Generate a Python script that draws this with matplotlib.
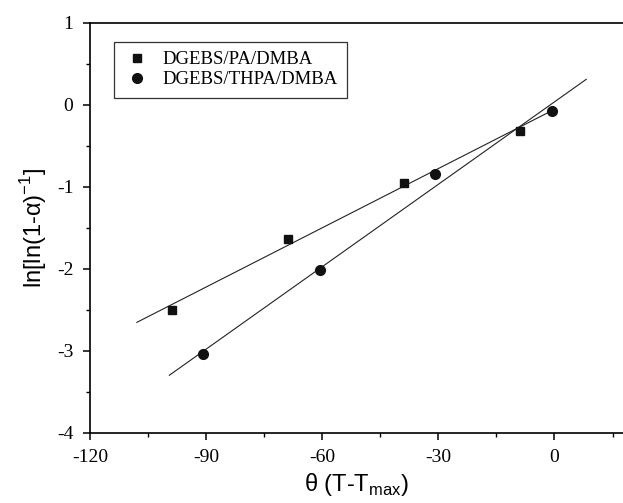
import matplotlib
matplotlib.use("Agg")
import matplotlib.pyplot as plt
import numpy as np
from matplotlib.ticker import MultipleLocator

plt.rcParams['axes.unicode_minus'] = False

# Data
pa_x = [-98.9, -68.8, -38.8, -8.8]
pa_y = [-2.50, -1.64, -0.95, -0.32]
thpa_x = [-90.7, -60.7, -30.8, -0.7]
thpa_y = [-3.04, -2.02, -0.85, -0.08]
labels = ["DGEBS/PA/DMBA", "DGEBS/THPA/DMBA"]
pa_fit_range = [-107.9, -1.8]
thpa_fit_range = [-99.5, 8.2]

fig = plt.figure(figsize=(6.23, 5.03), dpi=100)
ax = fig.add_axes([90/623, 1-432.7/503, 1-90/623, (432.7-22.7)/503])

ax.plot(pa_x, pa_y, 's', color='#111111', ms=6.0, label=labels[0], zorder=3)
ax.plot(thpa_x, thpa_y, 'o', color='#111111', ms=7.0, label=labels[1], zorder=3)

for xs, ys, rng in [(pa_x, pa_y, pa_fit_range), (thpa_x, thpa_y, thpa_fit_range)]:
    k, b = np.polyfit(xs, ys, 1)
    xx = np.array(rng)
    ax.plot(xx, k*xx + b, '-', color='#222222', lw=0.8, zorder=2)

ax.set_xlim(-120, 17.7)
ax.set_ylim(-4, 1)
ax.xaxis.set_major_locator(MultipleLocator(30))
ax.xaxis.set_minor_locator(MultipleLocator(15))
ax.yaxis.set_major_locator(MultipleLocator(1))
ax.yaxis.set_minor_locator(MultipleLocator(0.5))
ax.spines['right'].set_visible(False)
for s in ['left', 'bottom', 'top']:
    ax.spines[s].set_linewidth(1.2)
ax.tick_params(which='major', direction='out', length=5, width=1.1, pad=7,
               top=False, right=False)
ax.tick_params(which='minor', direction='out', length=3, width=1.0,
               top=False, right=False)
for lab in ax.get_xticklabels() + ax.get_yticklabels():
    lab.set_fontfamily('Liberation Serif')
    lab.set_fontsize(14)

ax.set_xlabel('θ (T-T$_{\\mathregular{max}}$)', fontfamily='Liberation Sans', fontsize=17, labelpad=3)
ax.set_ylabel('ln[ln(1-α)$^{\\mathregular{-1}}$]', fontfamily='Liberation Sans', fontsize=17, labelpad=6)

leg = ax.legend(loc='upper left', bbox_to_anchor=(0.045, 0.953), fancybox=False,
                edgecolor='#333333', framealpha=1, prop={'family': 'Liberation Serif', 'size': 13.5},
                handletextpad=0.6, borderpad=0.5, labelspacing=0.15, handlelength=1.5,
                borderaxespad=0)
leg.get_frame().set_linewidth(0.9)

fig.savefig('out.png', dpi=100)
